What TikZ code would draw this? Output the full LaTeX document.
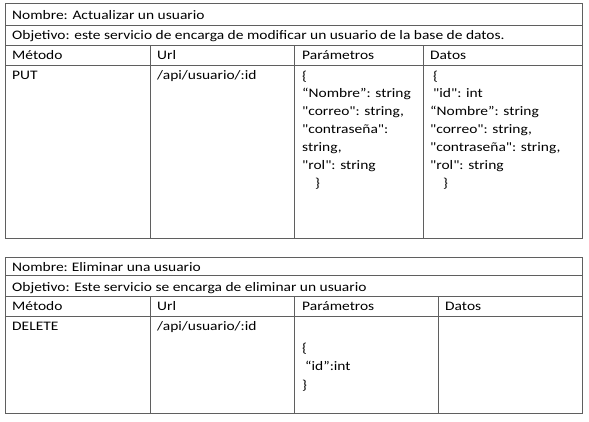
\documentclass[tikz,border=0pt]{standalone}
\usepackage{fontspec}
\setmainfont{Carlito}[Ligatures=TeXOff,FakeStretch=1.19]
\definecolor{rejilla}{RGB}{95,95,95}
\begin{document}
\begin{tikzpicture}[x=1pt,y=-1pt,
  celda/.style={draw=rejilla,line width=0.8pt},
  texto/.style={anchor=base west,inner sep=0pt,font=\fontsize{13}{17}\selectfont}]
\useasboundingbox (0,0) rectangle (589,421);
% tabla: actualizar
\draw[celda] (5,3.5) rectangle (582,238);
\draw[celda] (5,25) -- (582,25);
\draw[celda] (5,45.5) -- (582,45.5);
\draw[celda] (5,65.5) -- (582,65.5);
\draw[celda] (150.5,45.5) -- (150.5,238);
\draw[celda] (294,45.5) -- (294,238);
\draw[celda] (423,45.5) -- (423,238);
\node[texto] (nom1) at (12,19) {Nombre: Actualizar un usuario};
\node[texto] (obj1) at (12,39.5) {Objetivo: este servicio de encarga de modificar un usuario de la base de datos.};
\node[texto] (met1) at (12,59.5) {Método};
\node[texto] (url1) at (157,59.5) {Url};
\node[texto] (par1) at (302,59.5) {Parámetros};
\node[texto] (dat1) at (430,59.5) {Datos};
\node[texto] (put) at (12,79.5) {PUT};
\node[texto] (ruta1) at (157,79.5) {/api/usuario/:id};
\foreach \t [count=\i] in {\{, {“Nombre”: string}, {"correo": string,}, {"contraseña":}, {string,}, {"rol": string}, {\hspace{13pt}\}}}
  \node[texto] (p-\i) at (302,80+17.9*\i-17.9) {\t};
\foreach \t [count=\i] in {{\hspace{3pt}\{}, {\hspace{3pt}"id": int}, {“Nombre”: string}, {"correo": string,}, {"contraseña": string,}, {"rol": string}, {\hspace{13pt}\}}}
  \node[texto] (d-\i) at (430,80+17.9*\i-17.9) {\t};
% tabla: eliminar
\draw[celda] (5,257) rectangle (582,413);
\draw[celda] (5,275.5) -- (582,275.5);
\draw[celda] (5,296) -- (582,296);
\draw[celda] (5,316) -- (582,316);
\draw[celda] (150.5,296) -- (150.5,413);
\draw[celda] (294,296) -- (294,413);
\draw[celda] (438,296) -- (438,413);
\node[texto] (nom2) at (12,271) {Nombre:\hspace{4pt}Eliminar una usuario};
\node[texto] (obj2) at (12,291) {Objetivo: Este servicio se encarga de eliminar un usuario};
\node[texto] (met2) at (12,310.5) {Método};
\node[texto] (url2) at (157,310.5) {Url};
\node[texto] (par2) at (302,310.5) {Parámetros};
\node[texto] (dat2) at (445,310.5) {Datos};
\node[texto] (delete) at (12,330.5) {DELETE};
\node[texto] (ruta2) at (157,330.5) {/api/usuario/:id};
\foreach \t [count=\i] in {\{, {\hspace{3pt}“id”:int}, \}}
  \node[texto] (q-\i) at (302,352+18.5*\i-18.5) {\t};
\end{tikzpicture}
\end{document}
